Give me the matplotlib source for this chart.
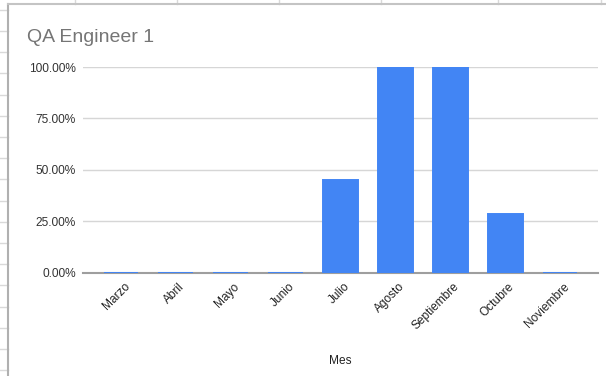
import matplotlib
matplotlib.use("Agg")
import matplotlib.pyplot as plt
from matplotlib.lines import Line2D
from matplotlib.ticker import PercentFormatter
from matplotlib.transforms import ScaledTranslation

months = ["Marzo", "Abril", "Mayo", "Junio", "Julio", "Agosto",
          "Septiembre", "Octubre", "Noviembre"]
values = [0.0, 0.0, 0.0, 0.0, 0.45, 1.0, 1.0, 0.286, 0.0]
yticks = [0.0, 0.25, 0.5, 0.75, 1.0]
title = "QA Engineer 1"
xlabel = "Mes"

plt.rcParams['font.family'] = ['Liberation Sans', 'DejaVu Sans']

W, H = 606, 376
fig = plt.figure(figsize=(W / 100, H / 100), dpi=100)
fig.patch.set_facecolor("white")


def fx(px):
    return px / W


def fy(py):
    return 1 - py / H


# spreadsheet background strips (left and top)
for y in [9.7, 30.9, 52.1, 73.3, 94.5, 115.7, 136.9, 158.1, 179.3, 200.5,
          221.7, 242.9, 264.1, 285.3, 306.5, 327.7, 348.9, 370.1]:
    fig.add_artist(Line2D([0, fx(8)], [fy(y), fy(y)], color="#d9d9d9", lw=1))
for x in [74.5, 177, 279, 381, 498, 600.5]:
    fig.add_artist(Line2D([fx(x), fx(x)], [fy(0), fy(4)], color="#d9d9d9", lw=1))
# chart border
fig.add_artist(Line2D([fx(8.3), fx(8.3)], [fy(4.3), 0], color="#b0b0b0", lw=1.5))
fig.add_artist(Line2D([fx(8.3), 1], [fy(4.3), fy(4.3)], color="#c4c4c4", lw=1.5))

ax = fig.add_axes([fx(83), fy(272.5), fx(598) - fx(83), fy(67) - fy(272.5)])
x = list(range(len(months)))
ax.bar(x, values, width=0.63, color="#4285F4", edgecolor="#4285F4",
       linewidth=1.4, zorder=3)
ax.set_xlim(-0.69, len(months) - 1 + 0.69)
ax.set_ylim(0, 1)
ax.set_yticks(yticks)
ax.yaxis.set_major_formatter(PercentFormatter(1.0, decimals=2))
ax.grid(axis="y", color="#d6d6d6", lw=1, zorder=0)
ax.set_axisbelow(True)
for s in ["left", "right", "top"]:
    ax.spines[s].set_visible(False)
ax.spines["bottom"].set_color("#9e9e9e")
ax.spines["bottom"].set_linewidth(1.5)
ax.spines["bottom"].set_zorder(2)
ax.tick_params(axis="y", length=0, pad=5, labelsize=8.6, labelcolor="#333333")
ax.tick_params(axis="x", length=0, pad=5, labelsize=8.6, labelcolor="#222222")
ax.set_xticks(x)
ax.set_xticklabels(months, rotation=45, ha="right", rotation_mode="anchor")
shift = ScaledTranslation(3 / 100, -1 / 100, fig.dpi_scale_trans)
for lab in ax.get_xticklabels():
    lab.set_transform(lab.get_transform() + shift)
ax.set_xlabel(xlabel, fontsize=8.6, color="#222222")
ax.xaxis.set_label_coords(0.5, -0.40)

fig.text(fx(27), fy(37), title, fontsize=14, color="#757575",
         ha="left", va="center")

fig.savefig("out.png", dpi=100, facecolor="white")
